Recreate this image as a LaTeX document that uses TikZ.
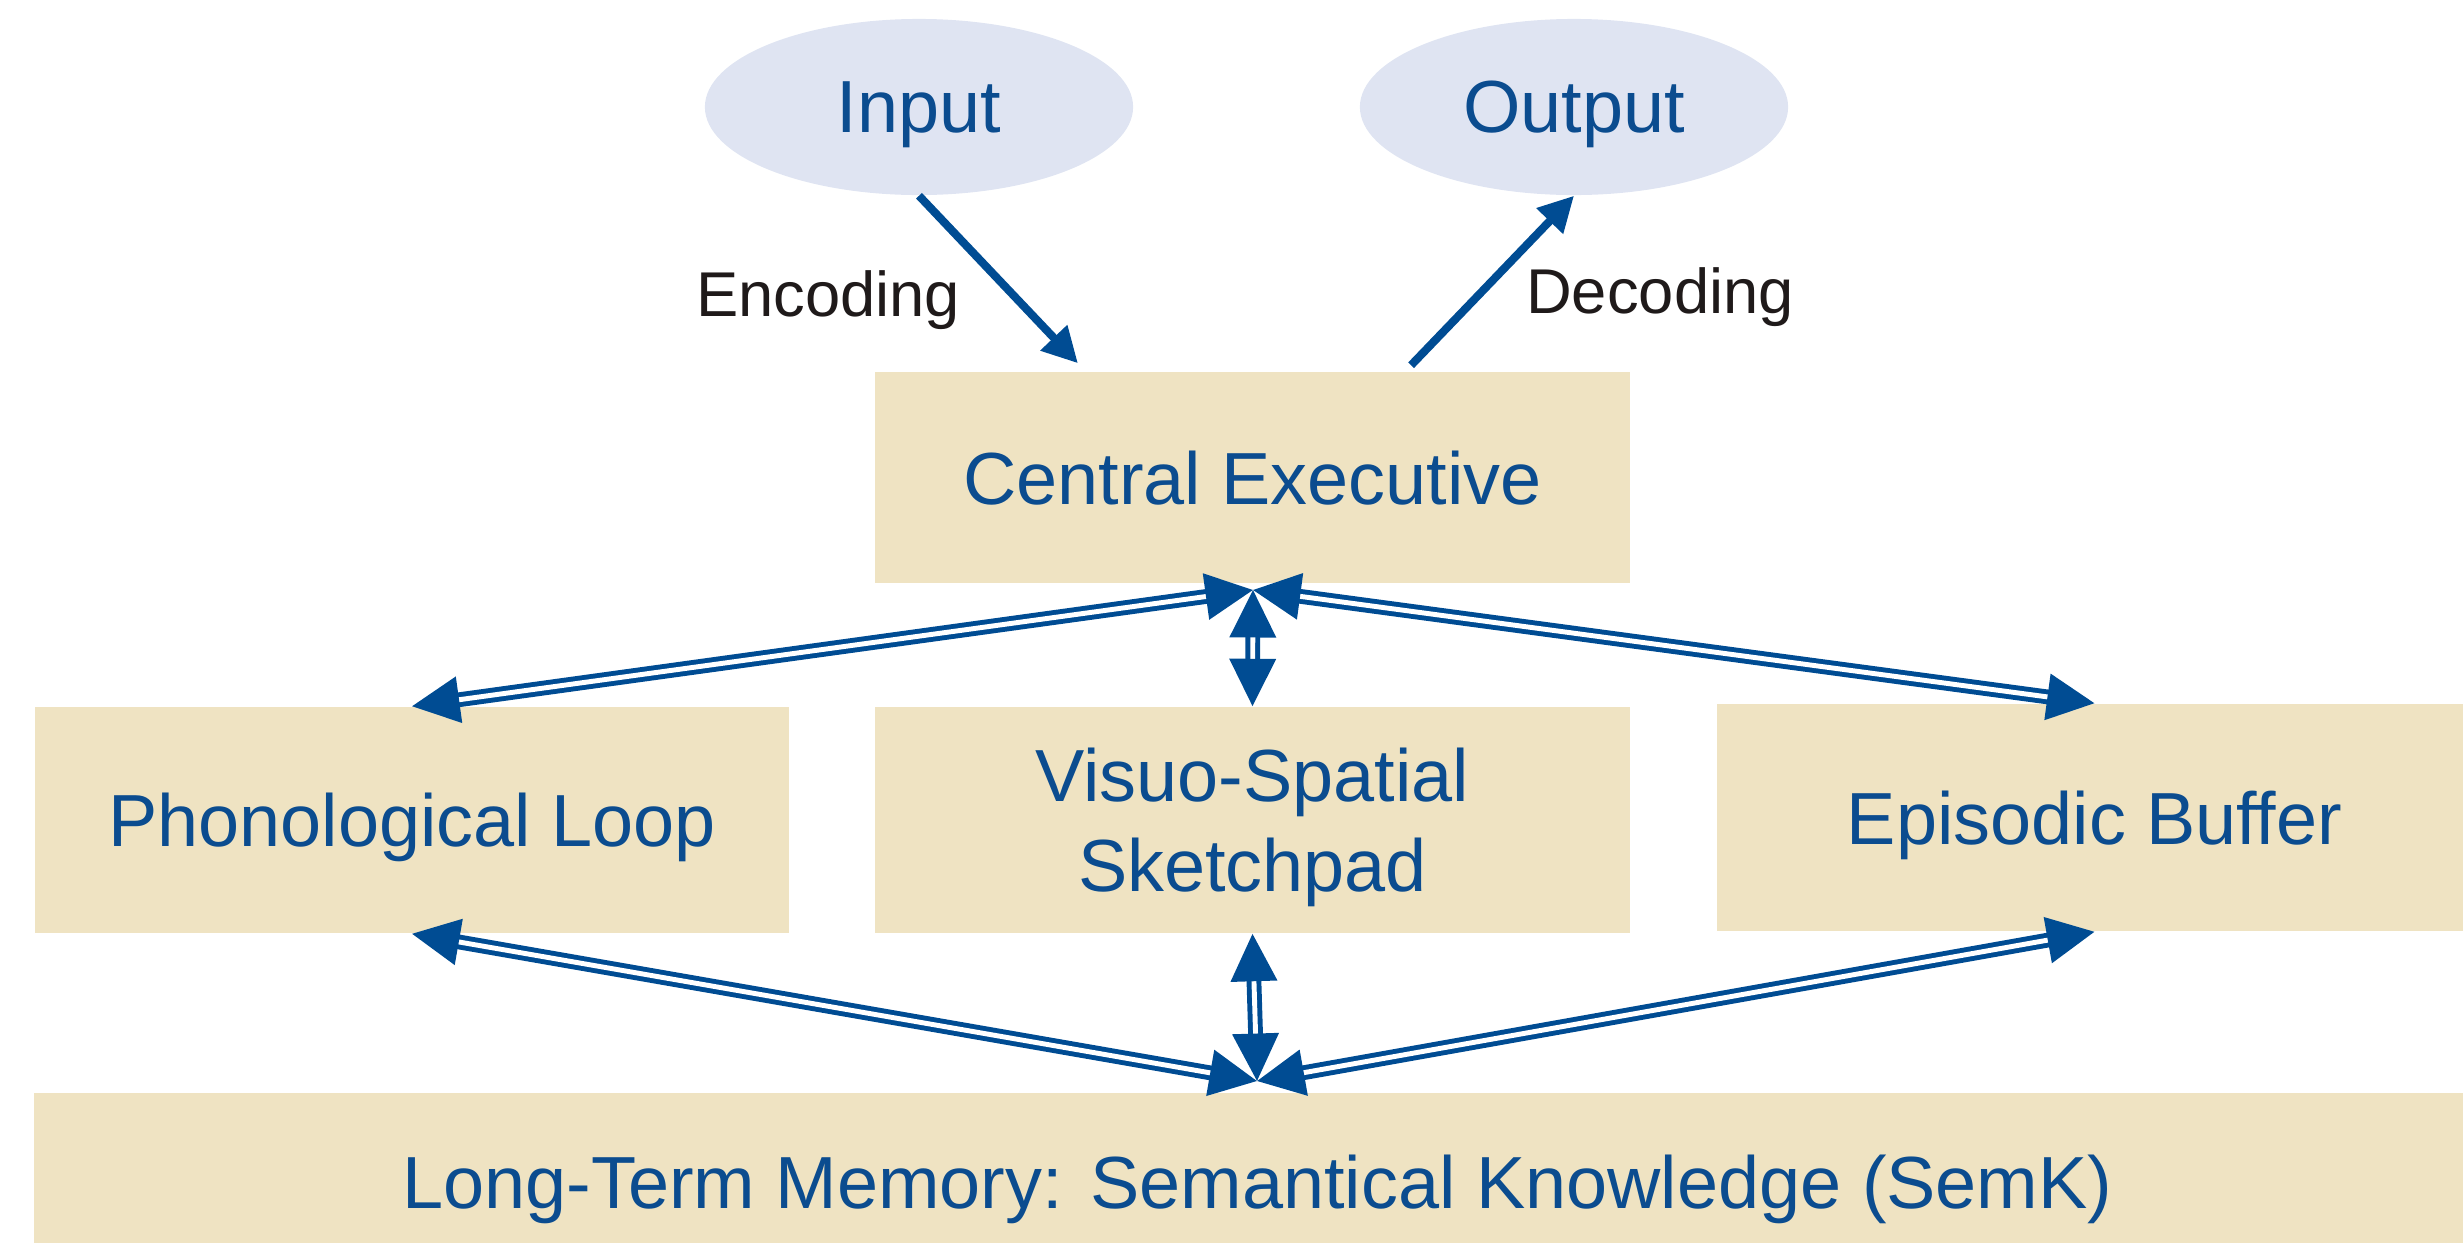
\documentclass[tikz,border=0pt]{standalone}
\usepackage{fontspec}
\setmainfont{Liberation Sans}
\usetikzlibrary{arrows.meta,shapes.geometric}
\definecolor{boxtan}{HTML}{EFE3C2}
\definecolor{ovalblue}{HTML}{DFE4F2}
\definecolor{txtblue}{HTML}{0B4C8F}
\definecolor{arrblue}{HTML}{004C93}
\definecolor{lblblack}{HTML}{1F1A1A}
\begin{document}
\begin{tikzpicture}[x=0.01cm,y=0.01cm,
  box/.style={rectangle, fill=boxtan, inner sep=0pt, text=txtblue, text depth=0pt, font=\fontsize{21}{25.6}\selectfont, align=center},
  oval/.style={ellipse, fill=ovalblue, inner sep=0pt, minimum width=4.28cm, minimum height=1.76cm, text=txtblue, text depth=0pt, font=\fontsize{21}{25.6}\selectfont},
  lbl/.style={text=lblblack, font=\fontsize{18}{22}\selectfont, inner sep=0pt},
  io/.style={draw=arrblue, line width=2.3pt, -{Triangle[length=10pt,width=10pt]}},
  dbl/.style={draw=arrblue, line width=1.4pt, double=white, double distance=1.4pt, {Triangle[length=13.5pt,width=13pt]}-{Triangle[length=13.5pt,width=13pt]}}
]
\useasboundingbox (0,0) rectangle (2463,-1242);
\node[oval] (inp) at (919,-107) {Input};
\node[oval] (out) at (1574,-107) {Output};
\node[box, minimum width=7.55cm, minimum height=2.11cm] (ce) at (1252.5,-477.5) {Central Executive};
\node[box, minimum width=7.54cm, minimum height=2.26cm] (pl) at (412,-820) {Phonological Loop};
\node[box, minimum width=7.55cm, minimum height=2.26cm] (vss) at (1252.5,-820) {Visuo-Spatial\\Sketchpad};
\node[box, minimum width=7.55cm, minimum height=2.27cm] (eb) at (2094.5,-817.5) {Episodic Buffer};
\node[box, minimum width=24.45cm, minimum height=1.77cm] (ltm) at (1257.5,-1181.5) {Long-Term Memory: Semantical Knowledge (SemK)};
\coordinate (hubA) at (1253,-590);
\coordinate (hubB) at (1257,-1081);
\draw[dbl] (hubA) -- (pl.north);
\draw[dbl] (hubA) -- (eb.north);
\draw[dbl] (hubA) -- (vss.north);
\draw[dbl] (hubB) -- (pl.south);
\draw[dbl] (hubB) -- (vss.south);
\draw[dbl] (hubB) -- (eb.south);
\draw[io] (inp.south) -- ([xshift=-1.745cm,yshift=0.08cm]ce.north);
\draw[io] ([xshift=1.585cm,yshift=0.06cm]ce.north) -- (out.south);
\node[lbl] (enc) at (828,-300) {Encoding};
\node[lbl] (dec) at (1660,-297) {Decoding};
\end{tikzpicture}
\end{document}
